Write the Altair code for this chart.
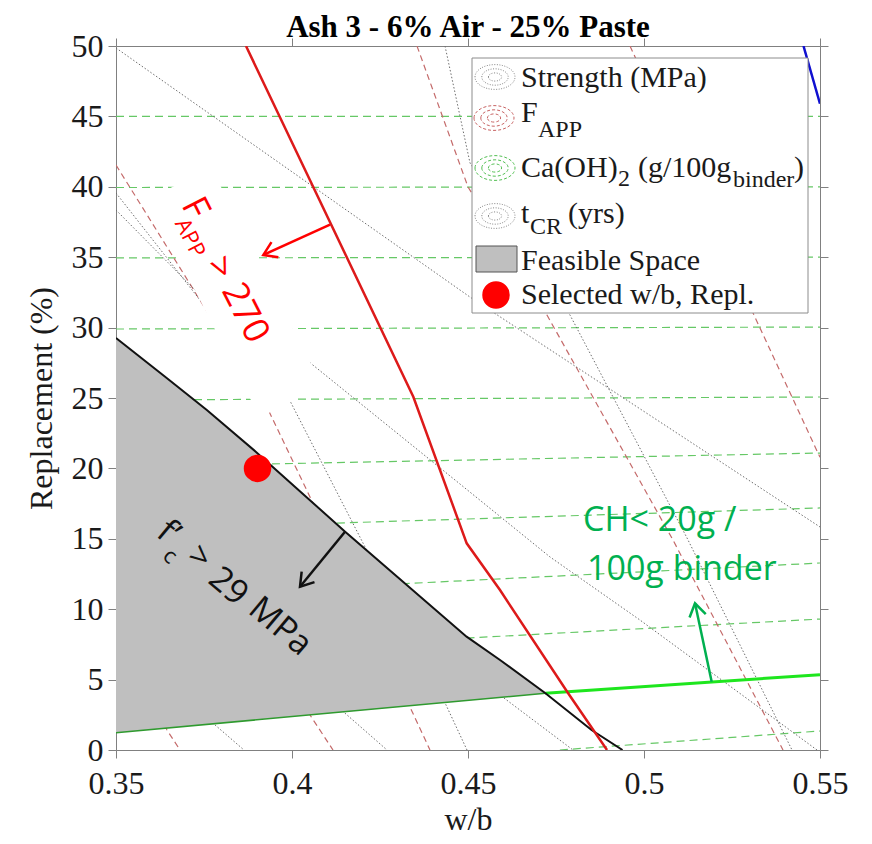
import math
import altair as alt
import numpy as np
import pandas as pd

# ---------------- values ----------------
# Ca(OH)2 contours (green dashed): w/b points and replacement points per line
caoh_x = [[0.35, 0.55]] * 9 + [[0.4761, 0.55]]
caoh_y = [[45.0, 45.0], [39.95, 40.0], [34.95, 35.0], [29.9, 30.04], [24.86, 25.07],
          [20.10, 21.09], [15.63, 17.19], [10.80, 13.28], [6.61, 9.30], [0.0, 1.35]]

# F_APP contours (red dashed)
fapp_x = [[0.35, 0.37614, 0.39233, 0.40511, 0.43352, 0.4392],
          [0.35, 0.36449, 0.36818],
          [0.36, 0.40568, 0.41165],
          [0.43551, 0.45, 0.47244, 0.50824, 0.53949],
          [0.49602, 0.53097, 0.54943, 0.55]]
fapp_y = [[41.55, 31.04, 24.64, 17.97, 3.05, 0.0],
          [8.0, 1.42, 0.0],
          [20.0, 2.27, 0.0],
          [50.0, 39.99, 30.89, 14.91, 0.0],
          [50.0, 31.04, 21.09, 20.8]]

# strength / t_CR contours (gray dotted)
dot_x = [[0.35, 0.45057, 0.49375, 0.55],
         [0.44347, 0.45057, 0.47898, 0.51222, 0.54205],
         [0.35, 0.37386, 0.40313, 0.44773, 0.4733, 0.49886, 0.54915],
         [0.35, 0.37386, 0.39858, 0.42017, 0.44375, 0.44972],
         [0.44205, 0.46023, 0.47983],
         [0.40227, 0.41563, 0.42699],
         [0.36534, 0.37813, 0.38636]]
dot_y = [[49.86, 32.17, 25.07, 15.84],
         [50.0, 41.69, 30.89, 15.06, 0.0],
         [38.35, 32.32, 27.91, 18.89, 13.71, 9.23, 0.0],
         [39.56, 31.96, 25.21, 14.70, 3.20, 0.0],
         [7.17, 3.69, 0.0],
         [5.40, 2.49, 0.0],
         [4.55, 1.78, 0.0]]

# constraint lines
strength29_x = [0.35, 0.3644, 0.3758, 0.3897, 0.4151, 0.4496, 0.4591, 0.4720, 0.4851, 0.4939]
strength29_y = [29.26, 26.42, 24.15, 21.19, 15.50, 8.05, 6.39, 4.03, 1.42, 0.0]
ch20_x = [0.35, 0.4720, 0.55]
ch20_y = [1.23, 4.03, 5.35]
fapp270_x = [0.38693, 0.43446, 0.44963, 0.45909, 0.47841, 0.48949]
fapp270_y = [50.0, 25.09, 14.68, 11.36, 4.05, 0.0]
tcr_x = [0.54531, 0.55]
tcr_y = [50.0, 45.9]
selected_x = [0.3902]
selected_y = [20.0]

# arrows (base -> head)
arrow_x0 = [0.41080, 0.41506, 0.51923]
arrow_y0 = [37.32, 15.50, 4.85]
arrow_x1 = [0.39185, 0.40227, 0.51449]
arrow_y1 = [35.16, 11.60, 10.42]

# annotation texts
red_txt = ["F", "APP", ">", "270"]
red_tx = [0.37244, 0.37102, 0.37955, 0.38665]
red_ty = [38.49, 36.36, 34.23, 31.04]
red_box_x = [0.38392]
red_box_y = [32.50]
blk_txt = ["f\u2019", "c", ">", "29", "MPa"]
blk_tx = [0.36477, 0.36534, 0.37358, 0.38182, 0.39659]
blk_ty = [15.41, 13.78, 13.64, 11.58, 8.74]
grn_txt = ["CH< 20g /", "100g binder"]
grn_tx = [0.48267, 0.48381]
grn_ty = [15.55, 12.07]

# ---------------- layout / style ----------------
X0, X1, Y0, Y1 = 0.35, 0.55, 0.0, 50.0
W = H = 704
XS = alt.Scale(domain=[X0, X1], nice=False, zero=False)
YS = alt.Scale(domain=[Y0, Y1], nice=False, zero=False)
SERIF = "Liberation Serif"
SANS = "Open Sans"
RED = "#ff0000"
GREEN_TXT = "#00b050"


def pxx(px):
    return X0 + px / W * (X1 - X0)


def pxy(py):
    return Y1 - py / H * (Y1 - Y0)


def X(f="x"):
    return alt.X(f, type="quantitative", scale=XS, axis=None)


def Y(f="y"):
    return alt.Y(f, type="quantitative", scale=YS, axis=None)


def lines_df(xs, ys):
    rows = []
    for g, (xx, yy) in enumerate(zip(xs, ys)):
        for o, (a, b) in enumerate(zip(xx, yy)):
            rows.append(dict(g=g, o=o, x=a, y=b))
    return pd.DataFrame(rows)


def line_layer(df, **kw):
    return alt.Chart(df).mark_line(clip=True, **kw).encode(
        x=X(), y=Y(), detail="g:N", order="o:Q")


layers = []

# axis layer (bottom / left)
ax_font = dict(labelFont=SERIF, labelFontSize=32, labelColor="#1a1a1a",
               titleFont=SERIF, titleFontSize=32, titleFontWeight="normal",
               titleColor="#1a1a1a", tickColor="#808080", domainColor="#808080",
               tickSize=8, grid=False, labelFlush=False)
ax_bottom = alt.Axis(orient="bottom", values=[0.35, 0.4, 0.45, 0.5, 0.55], format=".2~f",
                     title="w/b", labelPadding=10, titlePadding=5, **ax_font)
ax_left = alt.Axis(orient="left", values=list(range(0, 51, 5)), title="Replacement (%)",
                   labelPadding=5, titlePadding=13, **ax_font)
ax_top = alt.Axis(orient="top", values=[0.35, 0.4, 0.45, 0.5, 0.55], labels=False, title="",
                  tickColor="#808080", domainColor="#808080", tickSize=8, grid=False)
ax_right = alt.Axis(orient="right", values=list(range(0, 51, 5)), labels=False, title="",
                    tickColor="#808080", domainColor="#808080", tickSize=8, grid=False)
ax_df = pd.DataFrame({"x": [X0], "y": [Y0]})
layers.append(alt.Chart(ax_df).mark_point(opacity=0).encode(
    x=alt.X("x:Q", scale=XS, axis=ax_bottom), y=alt.Y("y:Q", scale=YS, axis=ax_left)))

# background contours
layers.append(line_layer(lines_df(caoh_x, caoh_y), color="#66c866", strokeWidth=1.2,
                         strokeDash=[8, 5]))
layers.append(line_layer(lines_df(fapp_x, fapp_y), color="#c46a6a", strokeWidth=1.2,
                         strokeDash=[6, 4]))
layers.append(line_layer(lines_df(dot_x, dot_y), color="#6e6e6e", strokeWidth=1.0,
                         strokeDash=[1.5, 2]))

# white text box behind the F_APP label
box_path = "M-1,-0.2857L1,-0.2857L1,0.2857L-1,0.2857Z"
box_df = pd.DataFrame({"x": red_box_x, "y": red_box_y})
layers.append(alt.Chart(box_df).mark_point(shape=box_path, filled=True, fill="white",
                                           opacity=1, strokeWidth=0, size=60025, angle=63)
              .encode(x=X(), y=Y()))

# feasible space polygon
n_up = strength29_x.index(ch20_x[1]) + 1
poly_x = strength29_x[:n_up]
poly_df = pd.DataFrame({"x": poly_x, "y": strength29_y[:n_up],
                        "y2": np.interp(poly_x, ch20_x[:2], ch20_y[:2])})
layers.append(alt.Chart(poly_df).mark_area(color="#bfbfbf", opacity=1).encode(
    x=X(), y=Y(), y2="y2:Q"))

# constraint lines
layers.append(line_layer(lines_df([ch20_x[:2]], [ch20_y[:2]]), color="#2f9a2f", strokeWidth=1.6))
layers.append(line_layer(lines_df([ch20_x[1:]], [ch20_y[1:]]), color="#1ee61e", strokeWidth=3))
layers.append(line_layer(lines_df([strength29_x], [strength29_y]), color="#111111", strokeWidth=2))
layers.append(line_layer(lines_df([fapp270_x], [fapp270_y]), color="#dd1a1a", strokeWidth=2.5))
layers.append(line_layer(lines_df([tcr_x], [tcr_y]), color="#1010d0", strokeWidth=2.5))

# arrows
arrow_colors = [RED, "#111111", GREEN_TXT]
for i in range(3):
    shaft = pd.DataFrame({"g": [0, 0], "o": [0, 1], "x": [arrow_x0[i], arrow_x1[i]],
                          "y": [arrow_y0[i], arrow_y1[i]]})
    layers.append(line_layer(shaft, color=arrow_colors[i], strokeWidth=2.5))
    dxp = (arrow_x1[i] - arrow_x0[i]) / (X1 - X0) * W
    dyp = -(arrow_y1[i] - arrow_y0[i]) / (Y1 - Y0) * H
    ang = math.degrees(math.atan2(dyp, dxp)) % 360
    head = pd.DataFrame({"x": [arrow_x1[i]], "y": [arrow_y1[i]]})
    layers.append(alt.Chart(head).mark_point(shape="M-1,-0.65L0,0L-1,0.65", filled=False,
                                             color=arrow_colors[i], opacity=1, size=650,
                                             strokeWidth=2.5, angle=ang)
                  .encode(x=X(), y=Y()))

# selected point
layers.append(alt.Chart(pd.DataFrame({"x": selected_x, "y": selected_y}))
              .mark_circle(size=755, color=RED, opacity=1).encode(x=X(), y=Y()))

# annotation texts
red_fs = [36, 22, 36, 36]
layers.append(alt.Chart(pd.DataFrame({"t": red_txt, "x": red_tx, "y": red_ty, "fs": red_fs}))
              .mark_text(font=SANS, color=RED, angle=63, align="center", baseline="middle")
              .encode(x=X(), y=Y(), text="t:N", size=alt.Size("fs:Q", scale=None)))
blk_fs = [34, 22, 34, 34, 34]
layers.append(alt.Chart(pd.DataFrame({"t": blk_txt, "x": blk_tx, "y": blk_ty, "fs": blk_fs}))
              .mark_text(font=SANS, color="#111111", angle=40, align="center", baseline="middle")
              .encode(x=X(), y=Y(), text="t:N", size=alt.Size("fs:Q", scale=None)))
layers.append(alt.Chart(pd.DataFrame({"t": grn_txt, "x": grn_tx, "y": grn_ty}))
              .mark_text(font=SANS, color=GREEN_TXT, fontSize=34, align="left",
                         baseline="alphabetic")
              .encode(x=X(), y=Y(), text="t:N"))

# legend (positions in plot-area pixels)
leg_box = pd.DataFrame({"x": [pxx(356)], "x2": [pxx(692)], "y": [pxy(12)], "y2": [pxy(267)]})
layers.append(alt.Chart(leg_box).mark_rect(fill="white", stroke="#8c8c8c", strokeWidth=1)
              .encode(x=X(), x2="x2:Q", y=Y(), y2="y2:Q"))

ell = ""
for r in (1.0, 0.66, 0.33):
    ry = 0.62 * r
    ell += f"M{-r},0A{r},{ry},0,1,1,{r},0A{r},{ry},0,1,1,{-r},0Z"
icon_px = [(379, 31), (378, 72), (379, 122), (379, 170)]
icon_col = ["#8a8a8a", "#c86464", "#55c055", "#8a8a8a"]
icon_dash = [[1, 1.5], [3, 2], [3, 2], [1, 1.5]]
for (ix, iy), c, d in zip(icon_px, icon_col, icon_dash):
    layers.append(alt.Chart(pd.DataFrame({"x": [pxx(ix)], "y": [pxy(iy)]}))
                  .mark_point(shape=ell, filled=False, color=c, opacity=1, size=1600,
                              strokeWidth=1, strokeDash=d)
                  .encode(x=X(), y=Y()))
swatch = pd.DataFrame({"x": [pxx(360)], "x2": [pxx(401)], "y": [pxy(200)], "y2": [pxy(226)]})
layers.append(alt.Chart(swatch).mark_rect(fill="#bfbfbf", stroke="#555555", strokeWidth=1)
              .encode(x=X(), x2="x2:Q", y=Y(), y2="y2:Q"))
layers.append(alt.Chart(pd.DataFrame({"x": [pxx(380)], "y": [pxy(249)]}))
              .mark_circle(size=755, color=RED, opacity=1).encode(x=X(), y=Y()))

leg_t = ["Strength (MPa)", "F", "APP", "Ca(OH)", "2", "(g/100g", "binder", ")",
         "t", "CR", "(yrs)", "Feasible Space", "Selected w/b, Repl."]
leg_px = [405, 405, 422, 405, 502, 522, 617, 678, 405, 414, 452, 405, 405]
leg_py = [41, 76, 91, 131, 140, 131, 141, 131, 177, 188, 177, 224, 258]
leg_fs = [30, 30, 24, 30, 24, 30, 24, 30, 30, 24, 30, 30, 30]
leg_df = pd.DataFrame({"t": leg_t, "x": [pxx(v) for v in leg_px],
                       "y": [pxy(v) for v in leg_py], "fs": leg_fs})
layers.append(alt.Chart(leg_df).mark_text(font=SERIF, color="#1a1a1a", align="left",
                                          baseline="alphabetic")
              .encode(x=X(), y=Y(), text="t:N", size=alt.Size("fs:Q", scale=None)))

# axis layer (top / right, ticks only)
layers.append(alt.Chart(ax_df).mark_point(opacity=0).encode(
    x=alt.X("x:Q", scale=XS, axis=ax_top), y=alt.Y("y:Q", scale=YS, axis=ax_right)))

chart = (alt.layer(*layers)
         .resolve_axis(x="independent", y="independent")
         .properties(width=W, height=H,
                     padding={"left": 108, "top": 38, "right": 40, "bottom": 86},
                     autosize=alt.AutoSizeParams(type="none"),
                     title=alt.TitleParams("Ash 3 - 6% Air - 25% Paste", font=SERIF,
                                           fontSize=31, fontWeight="bold", color="black",
                                           anchor="middle", offset=-14))
         .configure_view(strokeWidth=0))

chart.save("out.html", embed_options={"renderer": "svg", "actions": False})
